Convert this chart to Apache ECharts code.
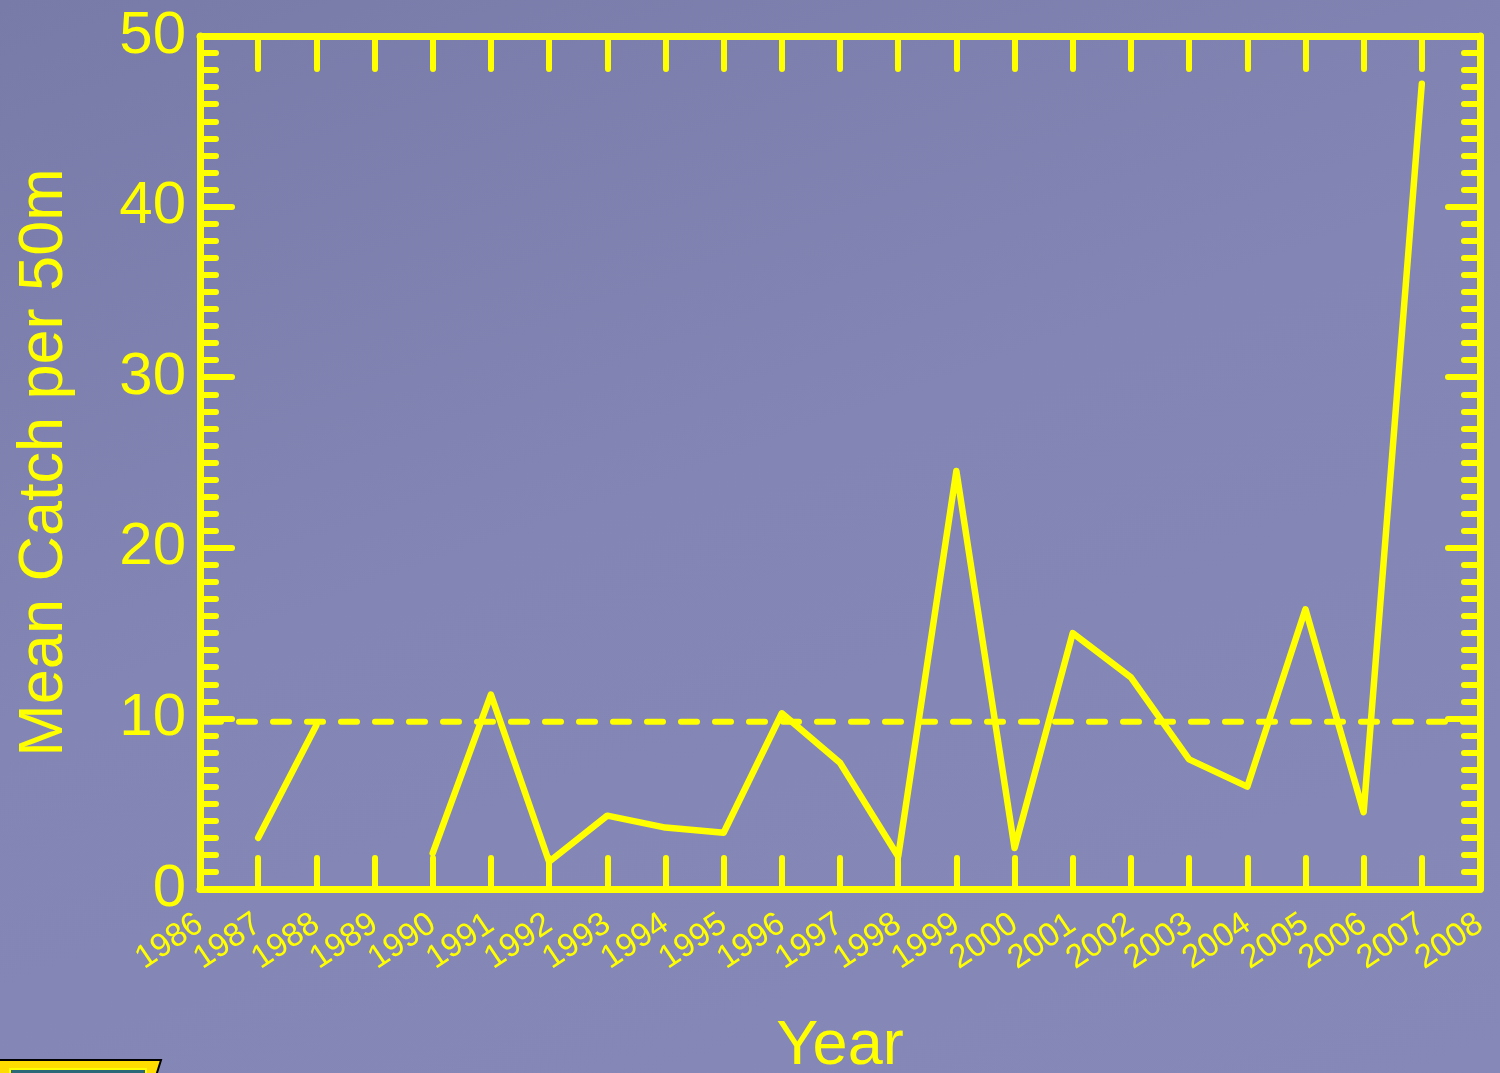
<!DOCTYPE html>
<html><head><meta charset="utf-8">
<script src="https://cdn.jsdelivr.net/npm/echarts@6/dist/echarts.min.js"></script>
<style>
html,body{margin:0;padding:0;}
body{background:linear-gradient(160deg,#787ba8 0%,#8386b4 45%,#8689b7 100%);}
#c{width:1500px;height:1073px;}
</style></head><body><div id="c"></div>
<script>
const years = ['1986','1987','1988','1989','1990','1991','1992','1993','1994','1995','1996','1997','1998','1999','2000','2001','2002','2003','2004','2005','2006','2007','2008'];
const catchValues = [null,3.0,9.6,null,2.1,11.4,1.6,4.3,3.6,3.3,10.3,7.4,1.9,24.5,2.4,15.0,12.4,7.6,6.0,16.4,4.5,47.2,null];
const meanValue = 9.8;
const yTicks = [0,10,20,30,40,50];

const Y = '#ffff00';
const chart = echarts.init(document.getElementById('c'), null, {renderer:'canvas'});
const font = 'Liberation Sans, Arial, sans-serif';
const tickStyle = {color:Y, width:6, cap:'round'};
const meanData = years.map((y,i)=> (i===0 || i===years.length-1) ? meanValue : null);
chart.setOption({
  backgroundColor:'transparent',
  animation:false,
  grid:{left:200, right:20, top:36, bottom:184, containLabel:false, outerBoundsMode:'none'},
  xAxis:[{
    type:'category', data:years, boundaryGap:false,
    name:'Year', nameLocation:'middle', nameGap:126,
    nameTextStyle:{color:Y, fontSize:63, fontFamily:font},
    axisLine:{show:true, onZero:false, lineStyle:{color:Y, width:7}},
    axisTick:{show:true, inside:true, interval:0, length:31, lineStyle:tickStyle},
    axisLabel:{color:Y, fontSize:33, fontFamily:font, rotate:34, margin:32, interval:0, hideOverlap:false},
    splitLine:{show:false}
  },{
    type:'category', data:years, boundaryGap:false, position:'top',
    axisLine:{show:true, onZero:false, lineStyle:{color:Y, width:7}},
    axisTick:{show:true, inside:true, interval:0, length:33, lineStyle:tickStyle},
    axisLabel:{show:false}, splitLine:{show:false}
  }],
  yAxis:[{
    type:'value', min:yTicks[0], max:yTicks[yTicks.length-1], interval:10,
    name:'Mean Catch per 50m', nameLocation:'middle', nameGap:124,
    nameTextStyle:{color:Y, fontSize:63, fontFamily:font},
    axisLine:{show:true, onZero:false, lineStyle:{color:Y, width:7}},
    axisTick:{show:true, inside:true, length:32, lineStyle:tickStyle},
    minorTick:{show:true, splitNumber:10, length:16, lineStyle:tickStyle},
    axisLabel:{color:Y, fontSize:60, fontFamily:font, margin:14, showMinLabel:true, showMaxLabel:true},
    splitLine:{show:false}
  },{
    type:'value', position:'right', min:yTicks[0], max:yTicks[yTicks.length-1], interval:10,
    axisLine:{show:true, onZero:false, lineStyle:{color:Y, width:7}},
    axisTick:{show:true, inside:true, length:32, lineStyle:tickStyle},
    minorTick:{show:true, splitNumber:10, length:16, lineStyle:tickStyle},
    axisLabel:{show:false}, splitLine:{show:false}
  }],
  series:[{
    type:'line', data:catchValues, showSymbol:false, symbol:'none', connectNulls:false,
    lineStyle:{color:Y, width:6.5, cap:'round', join:'round'}, z:3
  },{
    type:'line', data:meanData, symbol:'none', connectNulls:true,
    lineStyle:{color:Y, width:6, type:[16,18], cap:'round', dashOffset:-5}, z:2
  }],
  graphic:[{
    type:'polygon', shape:{points:[[-2,1060],[161,1060],[156,1076],[-2,1076]]},
    style:{fill:'#ffdd00', stroke:'#000', lineWidth:2}
  },{
    type:'rect', shape:{x:10,y:1069,width:136,height:10},
    style:{fill:'#2a6a78', stroke:'#ffff00', lineWidth:2}
  }]
});
</script></body></html>
